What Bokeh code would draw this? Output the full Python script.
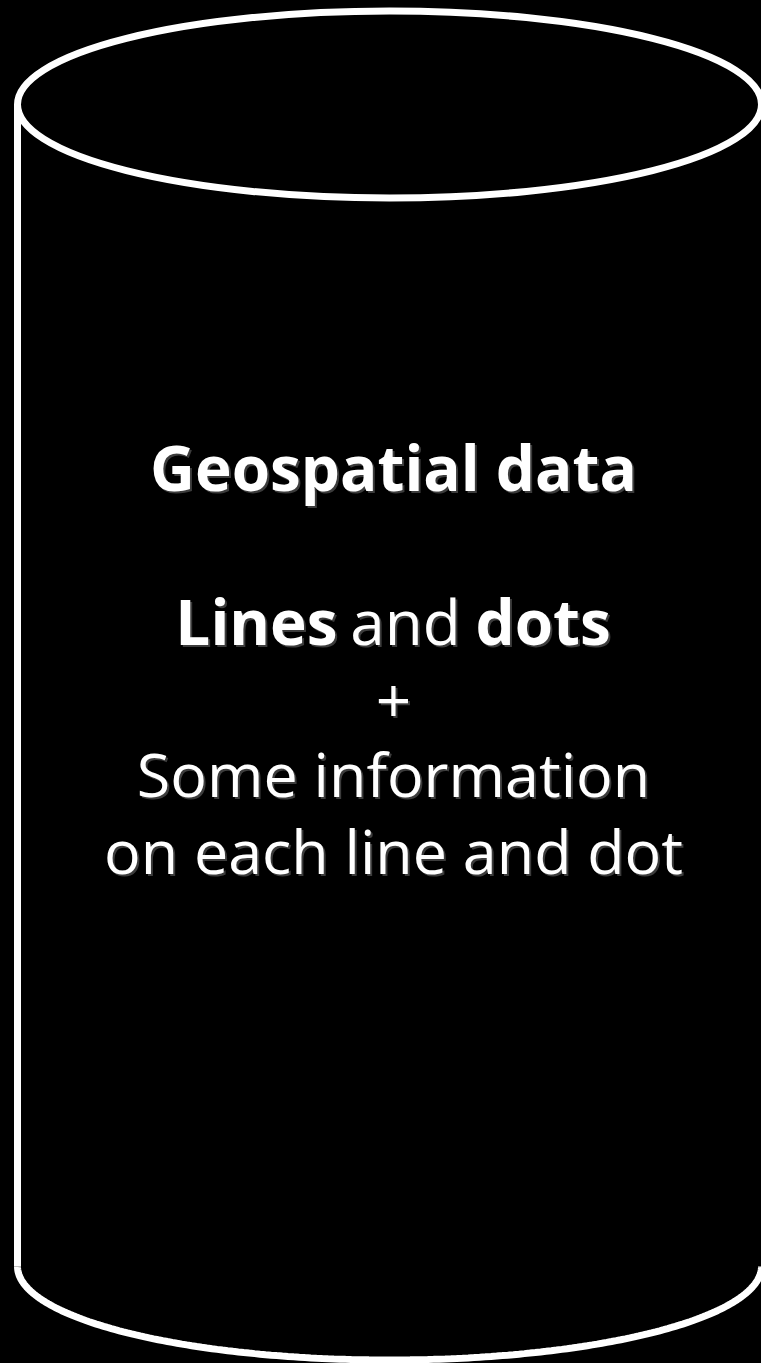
import numpy as np
from bokeh.plotting import figure
from bokeh.models import Range1d, ColumnDataSource
from bokeh.core.properties import value
from bokeh.embed import file_html
from bokeh.resources import INLINE

# ---- diagram content -------------------------------------------------------
# cylinder ("database") outline, in page pixels
cyl_cx = 389.0
cyl_rx = 372.0
cyl_ry = 93.5
cyl_top_cy = 104.0
cyl_bottom_cy = 1266.0

# centred text lines
line_texts = ["Geospatial data", "+", "Some information", "on each line and dot"]
line_styles = ["bold", "normal", "normal", "normal"]
line_y = [466, 700, 773, 850]
line_sizes = ["62px", "62px", "61px", "61px"]

# mixed-weight line "Lines and dots"
mix_texts = ["Lines", "and", "dots"]
mix_styles = ["bold", "normal", "bold"]
mix_x = [337, 405, 475]
mix_align = ["right", "center", "left"]
mix_y = 620

FONT = "Open Sans"
W, H = 761, 1363

p = figure(width=W, height=H, output_backend="svg", toolbar_location=None,
           x_range=Range1d(0, W), y_range=Range1d(H, 0), min_border=0)
p.axis.visible = False
p.grid.visible = False
p.outline_line_color = None
p.background_fill_color = "black"
p.border_fill_color = "black"

LW = 7
# top ellipse
p.ellipse(x=[cyl_cx], y=[cyl_top_cy], width=[2 * cyl_rx], height=[2 * cyl_ry],
          fill_alpha=0, line_color="white", line_width=LW)
# left wall (the right wall lies just outside the picture)
sx = cyl_cx - cyl_rx
p.line(x=[sx, sx], y=[cyl_top_cy, cyl_bottom_cy], line_color="white", line_width=LW)
# bottom half-ellipse
t = np.linspace(0, np.pi, 200)
p.line(x=cyl_cx - cyl_rx * np.cos(t), y=cyl_bottom_cy + cyl_ry * np.sin(t),
       line_color="white", line_width=LW)

text_cx = 393
shadow = "#3c3c3c"
for txt, sty, yy, fs in zip(line_texts, line_styles, line_y, line_sizes):
    src = ColumnDataSource(dict(x=[text_cx], y=[yy], t=[txt]))
    for col, off in ((shadow, 2), ("white", 0)):
        p.text(x="x", y="y", text="t", source=src, text_color=col,
               x_offset=off, y_offset=off, text_align="center",
               text_baseline="alphabetic", text_font=value(FONT),
               text_font_style=sty, text_font_size=fs)

for txt, sty, xx, al in zip(mix_texts, mix_styles, mix_x, mix_align):
    src = ColumnDataSource(dict(x=[xx], y=[mix_y], t=[txt]))
    for col, off in ((shadow, 2), ("white", 0)):
        p.text(x="x", y="y", text="t", source=src, text_color=col,
               x_offset=off, y_offset=off, text_align=al,
               text_baseline="alphabetic", text_font=value(FONT),
               text_font_style=sty, text_font_size="62px")

template = """{% block postamble %}<style>html, body {background:#000000; margin:0; padding:0; overflow:hidden;}</style>{% endblock %}"""
open("out.html", "w").write(file_html(p, INLINE, title="Geospatial data", template=template))
